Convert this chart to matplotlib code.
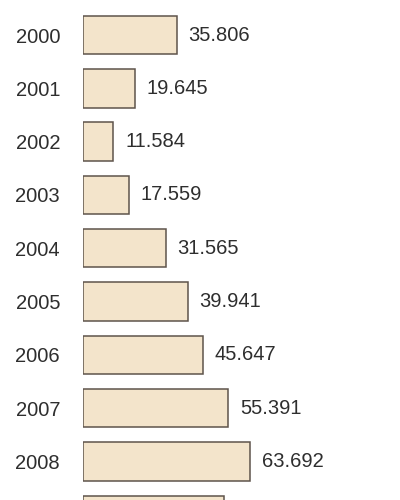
import matplotlib.pyplot as plt

# Dados (valores em milhares, separador de milhar com ponto)
anos = ["2000", "2001", "2002", "2003", "2004", "2005", "2006", "2007", "2008", "2009"]
valores = [35806, 19645, 11584, 17559, 31565, 39941, 45647, 55391, 63692, 53800]

plt.rcParams["font.family"] = ["Liberation Sans", "DejaVu Sans"]

fig = plt.figure(figsize=(4, 5), dpi=100)
ax = fig.add_axes([83 / 400, 0, 317 / 400, 1])

pos = list(range(len(anos)))
barras = ax.barh(pos, [v / 1000 for v in valores], height=0.72, left=0,
                 color="#f3e4cb", edgecolor="#5e544b", linewidth=1.1)

rotulos = [f"{v:,}".replace(",", ".") for v in valores]
ax.bar_label(barras, labels=rotulos, padding=8.5, fontsize=14.5, color="#2e2e2e")

ax.set_yticks(pos)
ax.set_yticklabels(anos, fontsize=14.5, color="#2e2e2e")
ax.tick_params(axis="y", length=0, pad=16.5)
ax.set_xticks([])
# limites depois dos ticks, senao o set_yticks expande a vista
ax.set_xlim(0, 120.9)
ax.set_ylim(8.724, -0.657)
for s in ax.spines.values():
    s.set_visible(False)

fig.savefig("out.png", dpi=100, facecolor="white")
